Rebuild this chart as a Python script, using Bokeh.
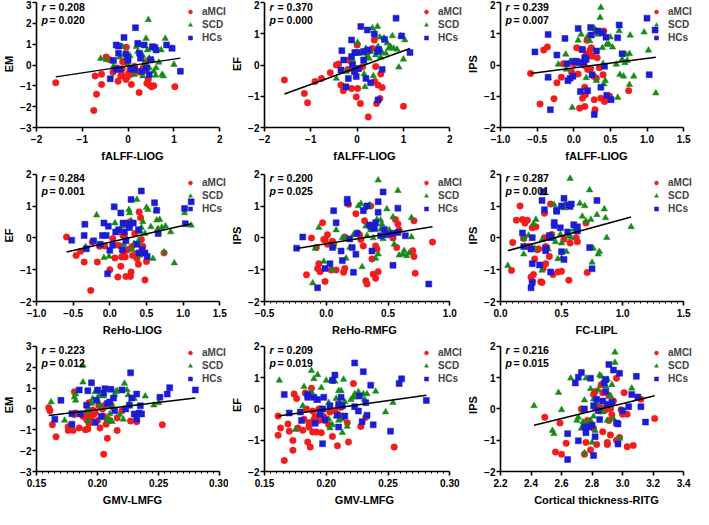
import numpy as np
from bokeh.plotting import figure
from bokeh.layouts import gridplot
from bokeh.models import (Range1d, FixedTicker, CustomJSTickFormatter, Legend,
                          LegendItem, Label)
from bokeh.embed import file_html
from bokeh.resources import INLINE

# ---------------- data (x, y) ----------------
# Panel 1: EM vs fALFF-LIOG
amci1 = [(-1.58,-0.85),(-0.75,-2.18),(-0.69,-1.40),(-0.72,-0.53),(-0.58,-0.93),(-0.58,-0.44),(-0.48,0.38),(-0.40,0.25),(-0.33,-0.35),(-0.25,-0.14),(-0.22,-0.78),(-0.16,-0.53),(-0.14,-0.46),(-0.12,0.16),(-0.08,0.14),(-0.04,0.85),(-0.05,-0.69),(-0.02,-0.58),(0.01,-0.41),(0.05,-0.46),(0.07,-0.93),(0.14,-0.06),(0.19,-0.30),(0.24,-1.32),(0.27,-0.35),(0.33,-0.14),(0.37,-0.25),(0.39,0.16),(0.41,-0.88),(0.44,-0.69),(0.47,-0.97),(0.51,-1.04),(0.56,-1.00),(1.02,-1.04),(-0.13,-0.19),(0.04,-0.19)]
scd1 = [(-0.60,0.31),(-0.47,0.25),(-0.32,-0.06),(-0.18,0.38),(-0.12,0.88),(-0.07,0.53),(0.04,0.44),(0.00,0.02),(0.11,-0.14),(0.14,-0.46),(0.18,0.88),(0.21,0.64),(0.26,0.96),(0.32,0.44),(0.35,0.09),(0.39,1.27),(0.42,0.72),(0.44,2.17),(0.46,0.33),(0.49,0.80),(0.53,0.25),(0.56,-0.30),(0.60,-0.50),(0.61,-0.14),(0.67,0.13),(0.72,0.72),(0.74,-0.46),(0.77,-0.53),(0.81,1.27),(0.95,0.80),(1.00,0.02),(0.32,-0.53),(0.46,-0.14)]
hc1 = [(-0.39,-0.66),(-0.32,0.22),(-0.26,0.96),(-0.21,0.91),(-0.21,0.57),(-0.09,1.32),(-0.05,0.53),(-0.02,0.38),(0.00,0.22),(0.07,-0.19),(0.14,-0.22),(0.16,1.79),(0.21,1.04),(0.25,0.57),(0.27,0.33),(0.30,-0.30),(0.35,0.96),(0.40,-0.14),(0.46,-0.46),(0.49,0.25),(0.53,0.88),(0.58,0.85),(0.61,0.72),(0.84,0.96),(0.96,0.80),(1.14,-0.30),(-0.26,-0.22),(-0.18,-0.19)]
fit1_x = [-1.58, 1.14]
fit1_y = [-0.57, 0.33]

# Panel 2: EF vs fALFF-LIOG
amci2 = [(-1.57,-0.48),(-1.14,-0.91),(-1.07,-1.21),(-0.91,-0.53),(-0.77,-0.43),(-0.58,-0.25),(-0.45,0.00),(-0.40,0.03),(-0.35,-0.64),(-0.30,-0.82),(-0.24,-0.70),(-0.20,-0.14),(-0.17,0.16),(-0.13,0.11),(-0.12,-0.75),(-0.10,0.05),(-0.05,-0.21),(-0.02,-1.02),(0.00,0.64),(0.01,-0.75),(0.05,-0.11),(0.07,-1.23),(0.12,-0.05),(0.22,0.40),(0.24,-1.66),(0.33,0.53),(0.37,0.80),(0.40,-0.05),(0.38,-0.53),(0.42,-1.23),(0.45,-0.64),(0.49,-1.07),(0.51,-0.29),(0.54,-0.72),(1.00,-1.32)]
scd2 = [(-0.45,-0.43),(-0.24,-0.21),(-0.10,0.16),(0.01,0.72),(0.12,0.37),(0.15,-0.29),(0.19,0.53),(0.17,-0.70),(0.21,0.27),(0.26,0.21),(0.29,0.43),(0.33,1.18),(0.35,-0.35),(0.38,1.02),(0.40,0.32),(0.44,1.23),(0.45,0.59),(0.49,0.89),(0.51,0.25),(0.54,0.40),(0.58,0.86),(0.62,0.37),(0.65,0.70),(0.68,0.53),(0.72,0.59),(0.76,0.93),(0.79,0.53),(0.86,0.50),(0.90,-0.07),(0.94,0.93),(1.00,0.18),(1.03,0.80),(0.15,0.11)]
hc2 = [(-0.35,-0.16),(-0.33,0.46),(-0.29,0.16),(-0.24,-0.70),(-0.19,-0.43),(-0.12,0.27),(-0.12,0.80),(-0.10,0.00),(-0.06,-0.21),(-0.05,0.40),(-0.02,-0.37),(0.01,0.40),(0.03,-0.11),(0.08,1.23),(0.14,0.43),(0.19,-0.43),(0.22,1.12),(0.24,0.48),(0.29,-0.57),(0.37,0.99),(0.44,0.43),(0.45,-1.12),(0.47,0.50),(0.54,-0.14),(0.59,0.82),(0.84,1.50),(0.96,0.93),(1.14,0.40),(0.14,0.16)]
fit2_x = [-1.57, 1.14]
fit2_y = [-0.93, 0.53]

# Panel 3: IPS vs fALFF-LIOG
amci3 = [(-0.59,-0.27),(-0.46,-1.25),(-0.41,0.48),(-0.36,0.58),(-0.27,-1.08),(-0.23,-0.57),(-0.17,-0.39),(-0.14,0.04),(-0.03,-0.22),(0.00,0.04),(0.04,0.55),(0.06,-0.29),(0.08,-1.38),(0.10,0.50),(0.12,-1.06),(0.14,-0.01),(0.15,-0.71),(0.15,-1.33),(0.16,-0.95),(0.17,0.34),(0.18,0.79),(0.19,-0.14),(0.22,0.47),(0.23,-0.11),(0.24,0.55),(0.25,0.28),(0.27,-0.36),(0.28,-1.11),(0.29,-1.43),(0.31,-0.42),(0.32,0.23),(0.33,1.03),(0.35,-0.09),(0.37,-1.06),(0.40,-0.31),(0.41,1.09),(0.42,-1.17),(0.46,-1.11),(0.49,-1.00),(0.75,-0.82)]
scd3 = [(-0.35,-0.41),(-0.21,0.02),(-0.11,0.34),(-0.10,-0.14),(-0.05,0.12),(-0.02,-1.36),(0.06,0.79),(0.10,0.98),(0.14,0.18),(0.17,-0.41),(0.19,0.92),(0.22,0.77),(0.25,-0.31),(0.28,1.17),(0.30,1.11),(0.31,-0.50),(0.33,0.98),(0.36,1.52),(0.37,1.84),(0.39,0.55),(0.40,0.04),(0.41,-0.61),(0.43,-0.50),(0.45,0.66),(0.48,0.66),(0.50,0.89),(0.53,0.57),(0.58,0.02),(0.60,-1.04),(0.62,1.09),(0.63,-0.31),(0.66,0.18),(0.68,-0.36),(0.70,0.07),(0.71,0.34),(0.73,0.14),(0.76,0.36),(0.77,0.95),(0.82,-0.36),(0.96,1.05),(1.02,0.47),(1.12,-0.90),(0.76,-0.63)]
hc3 = [(-0.53,0.42),(-0.35,0.98),(-0.35,-0.39),(-0.32,-1.43),(-0.23,0.32),(-0.12,0.85),(-0.09,0.04),(-0.08,-0.50),(-0.05,-0.42),(-0.01,-0.36),(0.00,0.12),(0.04,0.12),(0.06,1.17),(0.08,0.07),(0.09,-0.85),(0.12,0.50),(0.14,0.10),(0.15,0.23),(0.17,0.18),(0.19,-0.82),(0.23,1.20),(0.24,0.96),(0.25,-0.31),(0.28,-1.58),(0.31,0.45),(0.33,1.09),(0.37,-0.71),(0.39,1.03),(0.42,-0.04),(0.44,0.89),(0.45,-0.97),(0.51,-1.11),(0.60,0.87),(0.62,1.28),(0.66,0.36),(1.00,1.50),(1.03,-0.31),(1.11,1.12)]
fit3_x = [-0.59, 1.12]
fit3_y = [-0.27, 0.25]

# Panel 4: EF vs ReHo-LIOG
amci4 = [(-0.59,0.03),(-0.46,-0.55),(-0.40,-0.42),(-0.35,-0.76),(-0.26,-1.65),(-0.24,-0.13),(-0.17,-0.76),(-0.14,-0.26),(-0.07,-0.25),(0.00,-1.00),(0.04,-0.02),(0.07,-0.63),(0.11,-1.23),(0.12,-0.23),(0.15,-0.89),(0.16,-0.60),(0.17,0.14),(0.18,0.08),(0.19,-0.49),(0.20,0.03),(0.21,-0.60),(0.22,-1.21),(0.24,-0.37),(0.26,0.35),(0.27,0.51),(0.28,-1.21),(0.29,-1.07),(0.30,-0.28),(0.31,-0.55),(0.34,0.14),(0.37,-0.49),(0.37,-0.65),(0.39,-0.83),(0.40,0.82),(0.42,0.64),(0.43,-0.05),(0.45,-0.26),(0.48,-1.32),(0.50,-0.74),(0.74,-0.47)]
scd4 = [(-0.33,-0.28),(-0.18,0.72),(-0.08,-0.62),(-0.01,-0.58),(0.07,0.47),(0.14,0.24),(0.17,0.37),(0.19,-0.20),(0.23,0.45),(0.26,0.89),(0.27,0.79),(0.29,0.54),(0.30,-0.37),(0.33,-0.18),(0.37,1.21),(0.39,-0.09),(0.41,-0.55),(0.42,0.19),(0.43,0.33),(0.45,0.51),(0.48,0.14),(0.50,0.96),(0.52,0.89),(0.56,0.35),(0.59,-0.65),(0.63,0.87),(0.64,0.56),(0.66,0.29),(0.68,0.58),(0.71,0.33),(0.74,-0.44),(0.76,0.37),(0.83,0.19),(0.88,-0.79),(1.02,0.79),(1.11,0.40),(0.65,0.26)]
hc4 = [(-0.52,-0.07),(-0.35,0.08),(-0.34,0.43),(-0.32,-0.34),(-0.22,-0.09),(-0.13,-0.20),(-0.10,0.08),(-0.08,0.47),(-0.05,0.08),(-0.03,-1.13),(-0.02,0.37),(0.00,-0.39),(0.04,-0.23),(0.06,0.98),(0.08,0.19),(0.12,0.26),(0.15,0.79),(0.17,-0.37),(0.18,0.47),(0.20,0.19),(0.22,-0.09),(0.24,0.45),(0.27,0.33),(0.29,1.21),(0.32,0.47),(0.37,-0.20),(0.39,0.26),(0.40,-0.47),(0.43,1.48),(0.44,-0.37),(0.48,-0.47),(0.51,-0.58),(0.61,1.11),(0.64,0.87),(0.66,0.14),(1.02,0.93),(1.03,0.45),(1.11,1.14)]
fit4_x = [-0.59, 1.11]
fit4_y = [-0.44, 0.45]

# Panel 5: IPS vs ReHo-RMFG
amci5 = [(-0.16,-1.16),(-0.12,0.00),(-0.08,-0.30),(-0.07,-0.96),(-0.06,-0.81),(-0.05,-1.06),(-0.03,0.48),(-0.02,-0.05),(-0.01,-1.37),(-0.01,-0.05),(0.01,-0.20),(0.01,0.10),(0.04,-1.01),(0.05,-0.10),(0.06,-0.20),(0.08,-1.01),(0.14,-1.08),(0.15,-0.96),(0.15,0.03),(0.18,1.06),(0.24,0.76),(0.27,0.10),(0.28,-0.05),(0.30,-0.25),(0.31,0.54),(0.32,-1.35),(0.33,-1.45),(0.36,1.01),(0.37,-0.66),(0.38,-1.14),(0.40,-0.25),(0.40,-1.27),(0.41,-0.35),(0.42,-1.06),(0.56,0.58),(0.57,-0.30),(0.58,0.44),(0.59,0.25),(0.70,-0.40),(0.71,-0.58),(0.71,0.54),(0.72,-1.11),(0.86,-0.13),(0.54,0.00)]
scd5 = [(-0.11,-1.42),(-0.09,-0.33),(-0.06,0.33),(-0.02,-0.74),(0.05,-1.01),(0.06,-0.27),(0.08,0.25),(0.13,0.00),(0.15,0.00),(0.16,-0.64),(0.19,-0.30),(0.22,0.10),(0.25,0.15),(0.26,1.01),(0.28,1.08),(0.29,-0.91),(0.31,0.94),(0.32,0.37),(0.33,0.07),(0.35,1.04),(0.36,0.25),(0.38,0.00),(0.40,-0.64),(0.41,0.58),(0.42,1.82),(0.42,-0.51),(0.44,0.27),(0.44,0.56),(0.45,0.44),(0.46,-0.03),(0.49,0.91),(0.51,0.25),(0.54,0.66),(0.55,-0.20),(0.58,1.49),(0.59,-0.54),(0.62,-0.51),(0.63,-0.40),(0.67,-0.48),(0.69,0.03),(0.69,0.64),(0.65,-0.56)]
hc5 = [(-0.24,-0.32),(-0.19,0.03),(-0.07,-1.57),(-0.01,-0.96),(0.03,-0.81),(0.05,-0.30),(0.06,0.86),(0.08,0.48),(0.12,-0.41),(0.13,-0.71),(0.17,1.22),(0.17,1.11),(0.19,-0.03),(0.21,-0.30),(0.22,-1.08),(0.24,-0.51),(0.25,0.15),(0.30,0.86),(0.33,1.01),(0.35,0.41),(0.36,0.35),(0.37,-0.41),(0.39,0.30),(0.40,0.48),(0.42,1.14),(0.42,0.81),(0.44,0.07),(0.46,1.45),(0.47,0.27),(0.49,0.10),(0.54,-0.86),(0.54,0.15),(0.58,0.94),(0.58,0.17),(0.64,0.07),(0.83,-1.45)]
fit5_x = [-0.24, 0.86]
fit5_y = [-0.33, 0.35]

# Panel 6: IPS vs FC-LIPL
amci6 = [(0.09,-1.02),(0.10,-0.14),(0.13,0.56),(0.16,1.01),(0.18,0.58),(0.19,-0.02),(0.19,0.04),(0.20,0.47),(0.22,0.56),(0.23,-0.28),(0.24,-0.27),(0.25,-1.23),(0.26,0.32),(0.26,-1.36),(0.27,-1.15),(0.28,-0.66),(0.29,0.35),(0.30,-0.37),(0.31,-0.35),(0.33,-1.38),(0.34,-1.40),(0.35,-0.95),(0.36,0.01),(0.36,0.78),(0.37,-0.81),(0.37,-0.27),(0.38,-0.30),(0.40,-0.58),(0.41,1.07),(0.42,0.11),(0.43,-1.15),(0.47,-1.07),(0.50,-1.05),(0.52,-0.04),(0.56,-1.33),(0.57,-0.16),(0.62,0.01),(0.63,-0.12),(0.70,0.47),(0.71,-1.09),(0.31,-0.35)]
scd6 = [(0.06,-0.87),(0.19,-0.02),(0.19,-0.51),(0.20,-0.27),(0.23,0.08),(0.27,0.45),(0.28,-0.33),(0.29,0.58),(0.34,-0.06),(0.34,-1.02),(0.39,-0.35),(0.41,0.08),(0.43,0.01),(0.44,1.04),(0.45,-0.12),(0.47,-0.66),(0.49,0.11),(0.50,-0.16),(0.50,-0.64),(0.52,0.94),(0.53,1.07),(0.54,-0.43),(0.56,0.06),(0.57,1.87),(0.58,0.01),(0.60,0.27),(0.62,0.22),(0.65,1.09),(0.67,0.68),(0.69,1.01),(0.70,0.53),(0.73,1.51),(0.74,0.58),(0.75,-0.77),(0.76,-0.33),(0.79,0.73),(0.80,-0.51),(0.81,-0.43),(0.85,0.91),(0.86,0.63),(0.87,0.01),(1.07,0.35)]
hc6 = [(0.18,0.16),(0.19,-0.27),(0.25,-0.35),(0.25,-1.57),(0.26,-0.81),(0.26,-1.40),(0.26,0.01),(0.32,-0.85),(0.34,1.18),(0.35,1.45),(0.36,0.89),(0.37,-0.33),(0.37,-0.40),(0.40,0.08),(0.41,-1.07),(0.41,0.01),(0.44,0.49),(0.44,0.39),(0.46,0.84),(0.46,0.87),(0.49,0.32),(0.50,-0.43),(0.50,1.01),(0.52,1.25),(0.52,-0.68),(0.55,0.19),(0.56,1.04),(0.57,0.99),(0.58,1.07),(0.60,0.42),(0.63,0.22),(0.63,0.35),(0.73,-0.30),(0.75,-0.97),(0.79,1.18)]
fit6_x = [0.06, 1.07]
fit6_y = [-0.40, 0.66]

# Panel 7: EM vs GMV-LMFG
amci7 = [(0.160,0.06),(0.161,-0.09),(0.163,-0.76),(0.166,-1.34),(0.176,-0.85),(0.176,-1.03),(0.177,-0.96),(0.180,-1.03),(0.181,0.82),(0.181,-0.27),(0.182,-0.20),(0.185,-0.91),(0.188,-0.35),(0.190,-0.40),(0.190,-1.00),(0.191,-0.27),(0.191,-0.50),(0.192,-0.96),(0.193,-0.40),(0.193,0.30),(0.193,-0.70),(0.194,-0.43),(0.195,-0.35),(0.196,-0.05),(0.197,-0.24),(0.198,-0.15),(0.200,-0.55),(0.201,0.15),(0.202,-0.91),(0.204,0.00),(0.205,-0.35),(0.205,-2.17),(0.206,0.18),(0.207,-0.73),(0.208,-1.41),(0.208,-0.50),(0.210,-0.55),(0.211,0.18),(0.216,-0.43),(0.216,-1.03),(0.220,-0.09),(0.227,-0.58),(0.232,-0.61),(0.253,-0.76)]
scd7 = [(0.162,0.33),(0.173,-0.55),(0.181,0.56),(0.182,0.71),(0.182,0.41),(0.186,-0.24),(0.188,1.28),(0.188,2.08),(0.191,-0.09),(0.192,-0.58),(0.193,-0.09),(0.195,0.26),(0.196,0.49),(0.198,0.82),(0.200,0.41),(0.201,0.64),(0.202,0.18),(0.204,-0.43),(0.205,0.61),(0.207,0.18),(0.208,-0.50),(0.208,-0.55),(0.210,-0.55),(0.210,-0.24),(0.211,0.21),(0.212,-0.61),(0.213,0.06),(0.214,0.67),(0.215,0.82),(0.216,0.87),(0.218,-0.27),(0.221,-0.50),(0.222,1.22),(0.224,0.91),(0.225,0.67),(0.226,0.26),(0.230,0.49),(0.239,0.61),(0.246,0.18),(0.250,0.29)]
hc7 = [(0.165,-0.50),(0.170,0.41),(0.179,-0.73),(0.179,-0.23),(0.185,0.91),(0.186,-0.24),(0.191,0.18),(0.192,0.87),(0.195,1.25),(0.198,-0.65),(0.199,0.41),(0.200,0.91),(0.203,-0.35),(0.205,0.76),(0.206,0.97),(0.208,0.26),(0.210,0.33),(0.211,0.94),(0.213,0.52),(0.214,-0.09),(0.220,0.91),(0.223,0.00),(0.226,0.18),(0.227,1.73),(0.228,0.52),(0.230,-0.24),(0.232,0.71),(0.232,-0.50),(0.234,-0.20),(0.235,0.15),(0.236,-0.24),(0.251,0.56),(0.257,0.71),(0.259,1.02),(0.280,0.91)]
fit7_x = [0.160, 0.280]
fit7_y = [-0.32, 0.52]

# Panel 8: EF vs GMV-LMFG
amci8 = [(0.161,-0.84),(0.161,-0.23),(0.163,-0.61),(0.166,-1.65),(0.169,-0.48),(0.170,-0.71),(0.173,-1.01),(0.173,-1.32),(0.174,0.48),(0.176,0.33),(0.177,-0.61),(0.181,-0.68),(0.182,-0.33),(0.183,0.51),(0.184,0.00),(0.185,-1.06),(0.186,-0.44),(0.186,-0.58),(0.187,-1.22),(0.188,0.66),(0.189,-0.07),(0.189,-0.74),(0.190,-0.35),(0.191,-0.25),(0.192,-0.74),(0.194,0.00),(0.194,-0.37),(0.196,0.00),(0.196,-0.76),(0.198,-0.25),(0.199,-0.37),(0.202,-0.51),(0.203,-0.10),(0.205,-0.88),(0.207,-0.07),(0.209,-0.17),(0.209,-1.18),(0.210,0.07),(0.212,0.05),(0.213,-0.23),(0.217,-0.44),(0.218,-1.06),(0.222,0.81),(0.228,-0.56),(0.232,-0.27),(0.255,-1.22)]
scd8 = [(0.162,0.91),(0.175,-0.66),(0.181,0.10),(0.182,0.71),(0.184,0.48),(0.188,0.54),(0.188,1.22),(0.190,0.96),(0.192,0.27),(0.193,1.09),(0.196,0.68),(0.198,-0.03),(0.200,0.91),(0.202,-0.33),(0.202,0.20),(0.203,-0.61),(0.204,0.91),(0.205,-0.51),(0.206,0.91),(0.207,0.88),(0.208,0.33),(0.208,-0.23),(0.210,-0.37),(0.210,0.58),(0.211,0.20),(0.212,0.58),(0.213,-0.76),(0.213,-0.33),(0.214,0.94),(0.215,0.23),(0.217,-0.56),(0.220,0.30),(0.222,0.37),(0.223,0.48),(0.225,0.41),(0.226,0.54),(0.230,0.48),(0.231,0.30),(0.233,0.48),(0.240,0.56),(0.248,-0.10),(0.254,0.20)]
hc8 = [(0.166,0.46),(0.170,-0.13),(0.179,-0.10),(0.180,-0.37),(0.185,0.46),(0.185,0.37),(0.190,0.37),(0.191,-0.46),(0.193,0.30),(0.195,-0.10),(0.195,-0.17),(0.197,-1.11),(0.197,0.00),(0.198,0.37),(0.199,-0.35),(0.203,0.10),(0.205,0.91),(0.207,1.08),(0.209,-0.20),(0.210,0.15),(0.210,-0.58),(0.212,0.37),(0.213,0.10),(0.215,-0.23),(0.223,1.47),(0.223,0.07),(0.226,-0.07),(0.227,0.41),(0.229,-0.41),(0.230,1.19),(0.232,0.20),(0.233,-0.20),(0.236,0.76),(0.238,-0.51),(0.252,-0.71),(0.259,0.81),(0.261,0.96),(0.281,0.27)]
fit8_x = [0.161, 0.281]
fit8_y = [-0.23, 0.44]

# Panel 9: IPS vs Cortical thickness-RITG
amci9 = [(2.49,-0.27),(2.56,-1.38),(2.59,-0.45),(2.60,-1.45),(2.63,-1.10),(2.73,0.00),(2.75,-1.45),(2.76,-1.07),(2.77,-0.37),(2.78,-0.42),(2.79,-1.31),(2.81,0.46),(2.81,-0.62),(2.82,0.56),(2.82,0.04),(2.83,-1.14),(2.84,0.07),(2.85,-0.06),(2.86,0.04),(2.86,0.77),(2.87,0.52),(2.87,-0.73),(2.88,-0.03),(2.89,-0.03),(2.90,-1.14),(2.90,-1.07),(2.91,-0.37),(2.91,0.42),(2.92,-0.83),(2.92,0.00),(2.93,-0.19),(2.94,0.25),(2.96,0.98),(2.96,-1.00),(2.98,-0.91),(3.00,-0.17),(3.01,0.52),(3.03,-0.17),(3.03,-1.21),(3.07,-1.17),(3.12,0.31),(3.21,-0.31),(2.99,-0.03)]
scd9 = [(2.42,0.10),(2.54,-0.69),(2.55,-0.79),(2.58,0.52),(2.60,-0.03),(2.66,0.98),(2.70,-0.37),(2.71,-0.27),(2.73,-0.62),(2.74,-0.42),(2.74,-0.06),(2.75,0.28),(2.76,-0.48),(2.76,0.98),(2.77,-0.55),(2.79,-0.37),(2.79,0.64),(2.80,-1.07),(2.81,-0.24),(2.81,0.31),(2.82,-0.69),(2.83,0.18),(2.84,0.62),(2.85,1.08),(2.86,1.04),(2.87,-0.10),(2.88,0.90),(2.89,0.73),(2.90,-0.37),(2.90,0.94),(2.92,0.42),(2.92,0.10),(2.93,0.77),(2.94,-0.31),(2.95,1.48),(2.95,1.81),(2.98,-0.94),(3.06,0.66),(2.75,-1.41),(2.89,0.10)]
hc9 = [(2.64,-0.79),(2.64,-1.62),(2.69,0.83),(2.71,-1.02),(2.71,1.01),(2.73,1.16),(2.75,0.00),(2.75,-0.58),(2.76,-0.76),(2.78,-0.58),(2.79,0.98),(2.80,-0.52),(2.81,-1.49),(2.81,0.10),(2.82,-0.89),(2.83,0.31),(2.84,-0.06),(2.85,-0.34),(2.87,0.25),(2.88,0.83),(2.89,0.94),(2.89,0.56),(2.90,0.15),(2.91,1.42),(2.93,0.21),(2.94,1.24),(2.96,-0.45),(2.97,-0.48),(2.97,-1.12),(2.98,1.14),(3.00,-0.06),(3.04,0.07),(3.06,0.46),(3.09,1.04),(3.10,0.38),(3.12,0.07),(3.15,-0.42)]
fit9_x = [2.42, 3.21]
fit9_y = [-0.52, 0.42]

group_names = ["aMCI", "SCD", "HCs"]
x_labels = ["fALFF-LIOG", "fALFF-LIOG", "fALFF-LIOG", "ReHo-LIOG", "ReHo-RMFG",
            "FC-LIPL", "GMV-LMFG", "GMV-LMFG", "Cortical thickness-RITG"]
y_labels = ["EM", "EF", "IPS", "EF", "IPS", "IPS", "EM", "EF", "IPS"]
r_values = ["0.208", "0.370", "0.239", "0.284", "0.200", "0.287", "0.223", "0.209", "0.216"]
p_values = ["0.020", "0.000", "0.007", "0.001", "0.025", "0.001", "0.012", "0.019", "0.015"]

# axis ticks: (start, end, step, decimals, minor_step)
x_axes = [(-2, 2, 1, 0, None), (-2, 2, 1, 0, None), (-1.0, 1.5, 0.5, 1, None),
          (-1.0, 1.5, 0.5, 1, None), (-0.5, 1.0, 0.5, 1, 0.05), (0.0, 1.5, 0.5, 1, 0.05),
          (0.15, 0.30, 0.05, 2, 0.005), (0.15, 0.30, 0.05, 2, 0.005), (2.2, 3.4, 0.2, 1, None)]
y_axes = [(-3, 3), (-2, 2), (-2, 2), (-2, 2), (-2, 2), (-2, 2), (-3, 3), (-2, 2), (-2, 2)]

panels_data = [(amci1, scd1, hc1, fit1_x, fit1_y), (amci2, scd2, hc2, fit2_x, fit2_y),
               (amci3, scd3, hc3, fit3_x, fit3_y), (amci4, scd4, hc4, fit4_x, fit4_y),
               (amci5, scd5, hc5, fit5_x, fit5_y), (amci6, scd6, hc6, fit6_x, fit6_y),
               (amci7, scd7, hc7, fit7_x, fit7_y), (amci8, scd8, hc8, fit8_x, fit8_y),
               (amci9, scd9, hc9, fit9_x, fit9_y)]

COLORS = ["#f21c1c", "#168c16", "#1c1cd4"]
MARKERS = ["circle", "triangle", "square"]
SIZES = [6.5, 6.5, 6]
FONT = "Liberation Sans"

# layout in pixels: rows (height, gap above y axis, bottom border), cols (width, left border, x-axis length, legend x)
ROWS = [(169, 2, 42), (169, 5, 36), (170, 8, 34)]
COLS = [(228, 30, 189, 149), (236, 32, 189, 157), (228, 33, 186, 151)]
fmt_code = "const s = Math.abs(tick).toFixed(d); return (tick < -1e-9 ? '\u2212' : '') + s;"


def make_panel(i):
    amci, scd, hc, fx, fy = panels_data[i]
    x0, x1, xs, xd, xm = x_axes[i]
    y0, y1 = y_axes[i]
    H, atop, bottom = ROWS[i // 3]
    W, left, axw, legx = COLS[i % 3]
    FW = W - left
    FH = H - bottom
    # frame is wider / taller than the drawn axes so legend & labels are not clipped
    xr_end = x0 + (x1 - x0) * FW / axw
    yr_end = y0 + (y1 - y0) * FH / (FH - atop)
    p = figure(width=W, height=H, output_backend="svg", toolbar_location=None,
               x_range=Range1d(x0, xr_end), y_range=Range1d(y0, yr_end),
               min_border_left=left, min_border_right=0, min_border_top=0,
               min_border_bottom=bottom)
    p.outline_line_color = None
    p.xgrid.visible = False
    p.ygrid.visible = False

    n = int(round((x1 - x0) / xs))
    xt = [round(x0 + k * xs, 4) for k in range(n + 1)]
    if xm:
        nm = int(round((x1 - x0) / xm))
        xmin = [round(x0 + k * xm, 5) for k in range(nm + 1)]
    else:
        xmin = []
    yt = list(range(y0, y1 + 1))
    p.xaxis.ticker = FixedTicker(ticks=xt, minor_ticks=xmin)
    p.yaxis.ticker = FixedTicker(ticks=yt, minor_ticks=[])
    p.xaxis.bounds = (x0, x1)
    p.yaxis.bounds = (y0, y1)
    p.xaxis.formatter = CustomJSTickFormatter(args=dict(d=xd), code=fmt_code)
    p.yaxis.formatter = CustomJSTickFormatter(args=dict(d=0), code=fmt_code)
    p.xaxis.axis_label = x_labels[i]
    p.yaxis.axis_label = y_labels[i]
    for ax in (p.xaxis[0], p.yaxis[0]):
        ax.axis_line_width = 1.6
        ax.axis_line_color = "black"
        ax.major_tick_line_width = 1.6
        ax.major_tick_line_color = "black"
        ax.major_tick_out = 4
        ax.major_tick_in = 0
        ax.minor_tick_line_width = 1
        ax.minor_tick_line_color = "black"
        ax.minor_tick_out = 2
        ax.minor_tick_in = 0
        ax.major_label_text_font = FONT
        ax.major_label_text_font_style = "bold"
        ax.major_label_text_font_size = "10px"
        ax.major_label_text_color = "black"
        ax.axis_label_text_font = FONT
        ax.axis_label_text_font_style = "bold"
        ax.axis_label_text_font_size = "11px"
        ax.axis_label_text_color = "black"
    p.xaxis.major_label_standoff = 3
    p.xaxis.axis_label_standoff = 4
    p.yaxis.major_label_standoff = 1
    p.yaxis.axis_label_standoff = 2

    rends = []
    for g, pts in enumerate((amci, scd, hc)):
        xs_ = [a for a, b in pts]
        ys_ = [b for a, b in pts]
        r = p.scatter(xs_, ys_, marker=MARKERS[g], size=SIZES[g],
                      fill_color=COLORS[g], line_color=COLORS[g], line_width=0.5)
        rends.append(r)
    p.line(fx, fy, line_color="black", line_width=1.5)

    legy = FH - atop - 42
    legend = Legend(items=[LegendItem(label=group_names[g], renderers=[rends[g]]) for g in range(3)],
                    location=(legx, legy), orientation="vertical", border_line_alpha=0,
                    background_fill_alpha=0, padding=0, margin=0, spacing=0,
                    glyph_width=10, glyph_height=13, label_height=13, label_standoff=7,
                    label_text_font=FONT, label_text_font_style="bold",
                    label_text_font_size="10px", label_text_baseline="middle")
    p.add_layout(legend)

    common = dict(text_font=FONT, text_font_size="10.5px", text_baseline="top",
                  text_color="black")
    p.add_layout(Label(x=x0, y=y1, x_offset=5, y_offset=2, text="r",
                       text_font_style="bold italic", **common))
    p.add_layout(Label(x=x0, y=y1, x_offset=13, y_offset=2, text="= " + r_values[i],
                       text_font_style="bold", **common))
    p.add_layout(Label(x=x0, y=y1, x_offset=5, y_offset=-11, text="p",
                       text_font_style="bold italic", **common))
    p.add_layout(Label(x=x0, y=y1, x_offset=13, y_offset=-11, text="= " + p_values[i],
                       text_font_style="bold", **common))
    return p


figs = [make_panel(i) for i in range(9)]
grid = gridplot([figs[0:3], figs[3:6], figs[6:9]], toolbar_location=None)

open("out.html", "w").write(file_html(grid, INLINE))
